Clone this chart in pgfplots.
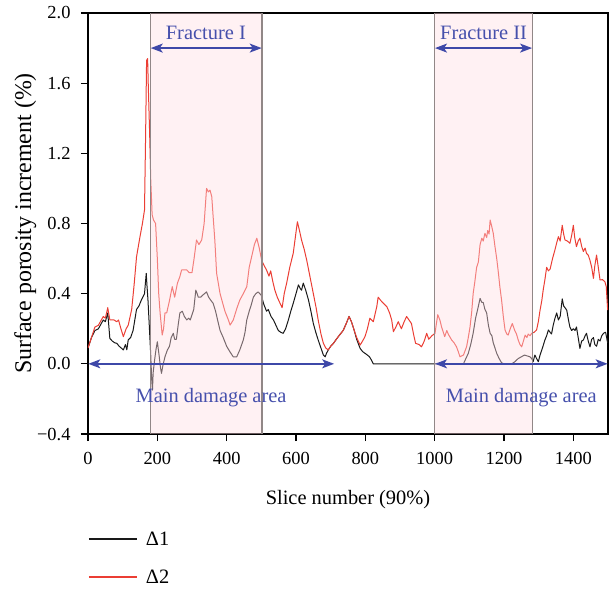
\documentclass[border=0pt]{standalone}
\usepackage{fontspec}
\setmainfont{Liberation Serif}
\usepackage{pgfplots}
\usepackage{pgfplotstable}
\pgfplotsset{compat=1.18}
\usetikzlibrary{arrows.meta}
\definecolor{redline}{RGB}{235,62,52}
\definecolor{blackline}{RGB}{25,25,25}
\definecolor{fracfill}{RGB}{255,220,227}
\definecolor{fracedge}{RGB}{145,135,135}
\definecolor{arrblue}{RGB}{62,72,168}
\definecolor{txtblue}{RGB}{70,80,172}

\pgfplotstableread{
x y
0 0.09
10 0.15
20 0.19
30 0.20
44 0.25
50 0.24
57 0.29
63 0.145
70 0.13
77 0.12
83 0.117
90 0.10
96 0.09
102 0.079
108 0.11
112 0.08
116 0.136
123 0.15
130 0.19
135 0.25
140 0.31
147 0.33
154 0.364
158 0.38
163 0.40
168 0.516
170 0.45
173 0.364
177 0.21
181 0.05
184 -0.10
186 -0.15
188 -0.05
192 0.02
196 0.08
200 0.126
205 0.05
209 -0.02
212 -0.054
216 -0.01
222 0.04
229 0.079
235 0.10
240 0.15
246 0.174
250 0.14
255 0.14
260 0.22
265 0.29
272 0.30
278 0.27
285 0.25
290 0.26
295 0.25
300 0.28
305 0.31
311 0.42
315 0.40
318 0.38
325 0.38
330 0.39
336 0.40
342 0.41
348 0.38
355 0.36
361 0.345
368 0.30
375 0.24
381 0.19
390 0.15
400 0.10
409 0.07
419 0.04
429 0.04
438 0.08
448 0.136
453 0.18
458 0.25
465 0.30
470 0.33
477 0.38
484 0.40
491 0.41
500 0.39
507 0.34
515 0.30
520 0.31
528 0.27
535 0.25
542 0.22
549 0.19
556 0.18
563 0.174
570 0.20
578 0.25
585 0.30
592 0.345
600 0.40
607 0.45
612 0.43
616 0.42
621 0.46
628 0.42
636 0.364
643 0.30
650 0.23
657 0.18
664 0.136
672 0.09
679 0.05
684 0.04
688 0.06
693 0.079
700 0.10
708 0.117
720 0.15
736 0.19
745 0.23
753 0.27
760 0.24
768 0.19
775 0.14
785 0.088
792 0.07
799 0.06
806 0.05
812 0.04
818 0.02
823 0.0
1083 0.0
1090 0.03
1097 0.06
1104 0.11
1111 0.174
1118 0.26
1124 0.31
1131 0.373
1136 0.35
1140 0.35
1145 0.31
1150 0.29
1155 0.22
1160 0.174
1165 0.16
1169 0.12
1174 0.09
1179 0.06
1186 0.03
1193 0.006
1200 0.0
1222 0.0
1230 0.01
1241 0.03
1250 0.04
1259 0.05
1267 0.045
1275 0.04
1280 0.03
1284 0.012
1289 0.05
1294 0.03
1299 0.012
1304 0.05
1309 0.079
1314 0.11
1318 0.136
1323 0.16
1328 0.193
1333 0.18
1337 0.17
1342 0.22
1347 0.26
1352 0.29
1357 0.25
1362 0.27
1368 0.37
1372 0.33
1376 0.32
1381 0.306
1386 0.25
1390 0.21
1395 0.19
1400 0.20
1405 0.19
1409 0.21
1414 0.15
1419 0.088
1424 0.13
1429 0.136
1434 0.16
1438 0.174
1443 0.13
1448 0.097
1453 0.14
1458 0.15
1462 0.11
1467 0.10
1472 0.14
1477 0.13
1482 0.16
1487 0.174
1493 0.18
1499 0.12
}\dataA

\pgfplotstableread{
x y
0 0.09
10 0.15
20 0.21
30 0.22
44 0.27
50 0.26
57 0.32
63 0.25
75 0.25
83 0.24
88 0.25
95 0.20
102 0.155
110 0.20
116 0.22
126 0.31
133 0.45
140 0.61
150 0.725
157 0.80
163 0.877
166 1.276
169 1.73
172 1.74
174 1.58
178 1.30
181 1.05
185 0.85
189 0.82
195 0.80
200 0.60
204 0.40
208 0.29
214 0.164
218 0.20
222 0.29
227 0.29
235 0.36
243 0.44
250 0.38
258 0.46
265 0.497
270 0.535
285 0.535
292 0.52
300 0.52
306 0.60
313 0.706
320 0.68
328 0.706
335 0.80
342 1.00
347 0.98
352 0.99
357 0.953
361 0.839
366 0.70
371 0.516
381 0.40
386 0.364
395 0.30
405 0.25
410 0.221
419 0.25
430 0.32
438 0.364
448 0.40
458 0.44
465 0.55
472 0.61
480 0.68
487 0.716
494 0.66
501 0.59
508 0.56
515 0.535
522 0.50
527 0.53
533 0.47
539 0.42
546 0.38
554 0.345
560 0.32
566 0.40
573 0.46
582 0.55
592 0.63
598 0.72
604 0.81
610 0.76
616 0.706
624 0.65
631 0.59
640 0.50
650 0.40
658 0.32
664 0.25
672 0.17
679 0.117
686 0.09
693 0.079
700 0.10
708 0.117
720 0.15
736 0.19
745 0.23
753 0.27
760 0.24
768 0.19
775 0.15
785 0.107
792 0.13
799 0.155
806 0.20
813 0.26
823 0.24
833 0.326
837 0.38
845 0.36
852 0.345
862 0.326
870 0.29
876 0.25
881 0.183
888 0.21
895 0.24
904 0.20
912 0.24
919 0.27
926 0.25
933 0.23
940 0.16
945 0.117
955 0.11
962 0.097
970 0.13
977 0.174
983 0.14
992 0.16
1001 0.174
1005 0.23
1009 0.28
1015 0.25
1020 0.21
1029 0.155
1035 0.19
1039 0.17
1049 0.136
1056 0.12
1063 0.097
1068 0.07
1073 0.04
1083 0.05
1092 0.097
1097 0.15
1102 0.21
1107 0.30
1111 0.40
1116 0.47
1121 0.55
1126 0.58
1131 0.68
1136 0.716
1140 0.70
1145 0.744
1150 0.72
1153 0.76
1157 0.74
1160 0.82
1165 0.78
1169 0.744
1174 0.668
1179 0.60
1184 0.516
1188 0.44
1193 0.364
1198 0.27
1203 0.193
1208 0.17
1212 0.164
1218 0.20
1224 0.23
1231 0.19
1236 0.17
1241 0.136
1246 0.11
1251 0.097
1256 0.13
1261 0.164
1266 0.15
1270 0.17
1275 0.16
1280 0.174
1287 0.18
1294 0.193
1299 0.24
1304 0.306
1309 0.36
1313 0.42
1318 0.48
1323 0.55
1328 0.53
1333 0.54
1340 0.60
1347 0.65
1352 0.69
1357 0.725
1362 0.70
1368 0.79
1372 0.74
1376 0.706
1383 0.70
1390 0.687
1395 0.73
1400 0.79
1404 0.72
1409 0.668
1414 0.70
1419 0.716
1424 0.67
1429 0.64
1434 0.66
1438 0.63
1443 0.62
1448 0.59
1453 0.55
1458 0.487
1462 0.56
1467 0.62
1472 0.55
1477 0.478
1484 0.48
1491 0.468
1495 0.44
1499 0.306
}\dataB

\begin{document}
\begin{tikzpicture}
\useasboundingbox (-88bp,-160bp) rectangle (526bp,434bp);
\begin{axis}[
  at={(0bp,0bp)}, anchor=south west,
  scale only axis, width=520bp, height=421bp,
  xmin=0, xmax=1500, ymin=-0.4, ymax=2.0,
  xtick={0,200,...,1400},
  ytick={-0.4,0,0.4,0.8,1.2,1.6,2.0},
  yticklabels={−0.4,0.0,0.4,0.8,1.2,1.6,2.0},
  tick align=outside, major tick length=7bp,
  xtick pos=bottom, ytick pos=left,
  axis line style={line width=1.6bp},
  every tick/.style={line width=1.2bp, black},
  ticklabel style={font=\fontsize{18.5}{20}\selectfont},
  xticklabel style={yshift=-8bp},
  yticklabel style={xshift=-7bp},
  /pgf/number format/assume math mode=true,
  /pgf/number format/1000 sep={},
  xlabel={Slice number (90\%)},
  ylabel={Surface porosity increment (\%)},
  xlabel style={font=\fontsize{20.5}{22}\selectfont, at={(axis description cs:0.5,0)}, anchor=base, yshift=-70bp},
  ylabel style={font=\fontsize{24}{26}\selectfont, at={(axis description cs:-0.1096,0.5)}, anchor=base},
  legend style={draw=none, fill=none, at={(axis description cs:0,0)}, anchor=north west,
    yshift=-96bp, inner sep=0pt, outer sep=0pt, row sep=19bp, column sep=6bp,
    font=\fontsize{20.5}{22}\selectfont},
  legend cell align=left,
  legend image code/.code={\draw[#1, line width=2bp] (0bp,0bp) -- (48bp,0bp);},
]
\addplot[blackline, line width=1bp, line join=round] table {\dataA};
\addlegendentry{Δ1}
\addplot[redline, line width=1bp, line join=round] table {\dataB};
\addlegendentry{Δ2}

\fill[fracfill, fill opacity=0.41] (axis cs:180,-0.4) rectangle (axis cs:502,2.0);
\fill[fracfill, fill opacity=0.41] (axis cs:1000,-0.4) rectangle (axis cs:1282,2.0);
\draw[fracedge, line width=1.5bp] (axis cs:180,-0.4) -- (axis cs:180,2.0);
\draw[fracedge, line width=1.5bp] (axis cs:502,-0.4) -- (axis cs:502,2.0);
\draw[fracedge, line width=1.5bp] (axis cs:1000,-0.4) -- (axis cs:1000,2.0);
\draw[fracedge, line width=1.5bp] (axis cs:1282,-0.4) -- (axis cs:1282,2.0);

\draw[arrblue, line width=1.5bp, {Stealth[length=12bp,width=9bp,inset=3bp]}-{Stealth[length=12bp,width=9bp,inset=3bp]}] (axis cs:181,1.8) -- (axis cs:501,1.8);
\draw[arrblue, line width=1.5bp, {Stealth[length=12bp,width=9bp,inset=3bp]}-{Stealth[length=12bp,width=9bp,inset=3bp]}] (axis cs:1001,1.8) -- (axis cs:1281,1.8);
\draw[arrblue, line width=1.5bp, {Stealth[length=12bp,width=9bp,inset=3bp]}-{Stealth[length=12bp,width=9bp,inset=3bp]}] (axis cs:1,0) -- (axis cs:710,0);
\draw[arrblue, line width=1.5bp, {Stealth[length=12bp,width=9bp,inset=3bp]}-{Stealth[length=12bp,width=9bp,inset=3bp]}] (axis cs:1001,0) -- (axis cs:1499,0);

\node[txtblue, font=\fontsize{20.5}{22}\selectfont] at (axis cs:340,1.885) {Fracture I};
\node[txtblue, font=\fontsize{20.5}{22}\selectfont] at (axis cs:1141,1.885) {Fracture II};
\node[txtblue, font=\fontsize{20.5}{22}\selectfont] at (axis cs:355,-0.19) {Main damage area};
\node[txtblue, font=\fontsize{20.5}{22}\selectfont] at (axis cs:1250,-0.19) {Main damage area};
\end{axis}
\end{tikzpicture}
\end{document}
